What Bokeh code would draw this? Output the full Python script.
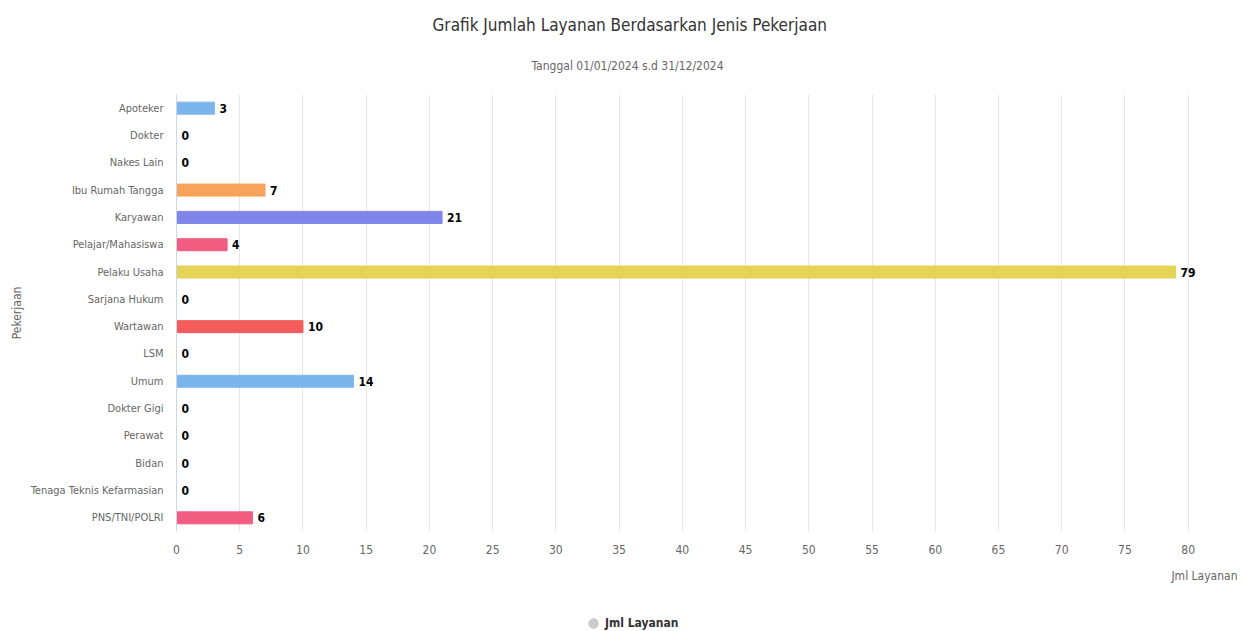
from bokeh.plotting import figure
from bokeh.layouts import column
from bokeh.models import (ColumnDataSource, FactorRange, Range1d, Title, Legend,
                          LegendItem, FixedTicker)
from bokeh.core.properties import value
from bokeh.embed import file_html
from bokeh.resources import INLINE

categories = ["Apoteker", "Dokter", "Nakes Lain", "Ibu Rumah Tangga", "Karyawan",
              "Pelajar/Mahasiswa", "Pelaku Usaha", "Sarjana Hukum", "Wartawan", "LSM",
              "Umum", "Dokter Gigi", "Perawat", "Bidan", "Tenaga Teknis Kefarmasian",
              "PNS/TNI/POLRI"]
values = [3, 0, 0, 7, 21, 4, 79, 0, 10, 0, 14, 0, 0, 0, 0, 6]
palette = ["#7cb5ec", "#434348", "#90ed7d", "#f7a35c", "#8085e9", "#f15c80",
           "#e4d354", "#2b908f", "#f45b5b", "#91e8e1"]
x_ticks = list(range(0, 85, 5))
title_text = "Grafik Jumlah Layanan Berdasarkan Jenis Pekerjaan"
subtitle_text = "Tanggal 01/01/2024 s.d 31/12/2024"
series_name = "Jml Layanan"
y_title = "Pekerjaan"

FONT = "DejaVu Sans Condensed, Open Sans"

colors = [palette[i % len(palette)] for i in range(len(categories))]
src = ColumnDataSource(dict(cat=categories, val=values, color=colors,
                            lbl=[str(v) for v in values]))

p = figure(width=1237, height=600, output_backend="svg", toolbar_location=None,
           y_range=FactorRange(factors=list(reversed(categories))),
           x_range=Range1d(0, 83.9),
           min_border_left=176, min_border_right=0, min_border_top=94,
           min_border_bottom=69)
p.outline_line_color = None
p.background_fill_color = "white"

p.hbar(y="cat", right="val", left=0, height=0.44, color="color", source=src)
p.text(x="val", y="cat", text="lbl", source=src, x_offset=5,
       text_baseline="middle", text_align="left", text_font=value(FONT),
       text_font_size="12px", text_font_style="bold", text_color="#000000")

# axes
p.xaxis.ticker = FixedTicker(ticks=x_ticks)
p.xaxis.axis_line_color = None
p.xaxis.major_tick_line_color = None
p.xaxis.minor_tick_line_color = None
p.xaxis.major_tick_out = 0
p.xaxis.major_label_text_font = FONT
p.xaxis.major_label_text_font_size = "12px"
p.xaxis.major_label_text_color = "#666666"
p.xaxis.major_label_standoff = 13

p.yaxis.axis_line_color = "#ccd6eb"
p.yaxis.major_tick_line_color = None
p.yaxis.major_tick_out = 0
p.yaxis.major_label_standoff = 13
p.yaxis.major_label_text_font = FONT
p.yaxis.major_label_text_font_size = "11px"
p.yaxis.major_label_text_color = "#666666"
p.yaxis.axis_label = y_title
p.yaxis.axis_label_text_font = FONT
p.yaxis.axis_label_text_font_size = "12px"
p.yaxis.axis_label_text_font_style = "normal"
p.yaxis.axis_label_text_color = "#666666"
p.yaxis.axis_label_standoff = 4

p.xgrid.grid_line_color = "#e6e6e6"
p.xgrid.ticker = FixedTicker(ticks=x_ticks)
p.ygrid.grid_line_color = None

# titles
p.add_layout(Title(text=subtitle_text, align="left", offset=355, standoff=44,
                   text_font=FONT, text_font_size="12px", text_font_style="normal",
                   text_color="#666666"), "above")
p.add_layout(Title(text=title_text, align="left", offset=256, standoff=0,
                   text_font=FONT, text_font_size="17px", text_font_style="normal",
                   text_color="#333333"), "above")
p.add_layout(Title(text=series_name, align="right", standoff=24, vertical_align="top",
                   text_font=FONT, text_font_size="12px", text_font_style="normal",
                   text_color="#666666"), "below")

# legend strip (frame is aligned with the chart's frame by the column layout)
lf = figure(width=1237, height=31, output_backend="svg", toolbar_location=None,
            x_range=Range1d(0, 1), y_range=Range1d(0, 1),
            x_axis_location=None, y_axis_location=None,
            min_border_left=0, min_border_right=0, min_border_top=0,
            min_border_bottom=0)
lf.outline_line_color = None
lf.grid.visible = False
nan = float("nan")
dummy = lf.scatter(x=[nan], y=[nan], size=10, color="#cccccc", marker="circle")
legend = Legend(items=[LegendItem(label=series_name, renderers=[dummy])],
                location=(405, -4), orientation="horizontal",
                glyph_width=24, glyph_height=24, padding=0, margin=0,
                label_standoff=0, border_line_color=None,
                background_fill_alpha=0, label_text_font=FONT,
                label_text_font_size="12px", label_text_font_style="bold",
                label_text_color="#333333", label_height=14)
lf.add_layout(legend, "center")

open("out.html", "w").write(file_html(column(p, lf, spacing=0), INLINE))
